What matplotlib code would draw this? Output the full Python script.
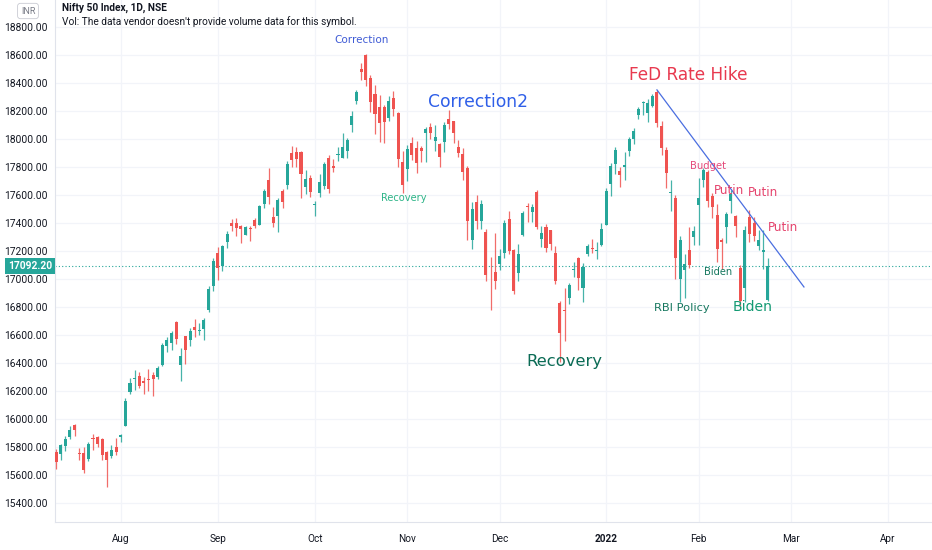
#!/usr/bin/env python3
from __future__ import annotations

import matplotlib

matplotlib.use("Agg")
import matplotlib.pyplot as plt
import numpy as np

# Nifty 50 Index, daily bars 2021-07-12 .. 2022-02-22 (x = trading-day index)
opens = [
    15766, 15749, 15808, 15872, 15956, 15754, 15754, 15711, 15862, 15869, 15860, 15761, 15732, 15800,  # Jul
    15874, 15951, 16196, 16288, 16304, 16270, 16281, 16314, 16303, 16385, 16518, 16545, 16691, 16382,
    16592, 16561, 16654, 16627, 16642, 16775, 16948,  # Aug
    17186, 17095, 17262, 17400, 17401, 17375, 17313, 17363, 17420, 17387, 17539, 17709, 17443, 17450,
    17630, 17670, 17897, 17907, 17906, 17657, 17719,  # Sep
    17531, 17615, 17661, 17861, 17810, 17887, 17867, 17916, 18097, 18273, 18500, 18602, 18439, 18320,
    18229, 18230, 18150, 18296, 18187, 17833,  # Oct
    17783, 17970, 17936, 17935, 18040, 18084, 17985, 17967, 17977, 18141, 18127, 17940, 17890, 17796,
    17281, 17550, 17417, 17338, 17055, 17052,  # Nov
    17104, 17183, 17425, 17209, 17045, 17315, 17524, 17477, 17619, 17283, 17371, 17348, 17183, 16825,
    16773, 16865, 17067, 17150, 16937, 17177, 17220, 17201, 17244,  # Dec
    17388, 17681, 17821, 17768, 17798, 17913, 17998, 18170, 18257, 18185, 18235, 18338, 18094, 17922,
    17614, 17575, 17001, 17062, 17209, 17301,  # Jan
    17529, 17706, 17767, 17590, 17456, 17279, 17370, 17555, 17452, 17077, 16934, 17440, 17398, 17235,
    17193, 16847,  # Feb
]
highs = [
    15789, 15820, 15879, 15952, 15962, 15790, 15800, 15834, 15890, 15880, 15861, 15768, 15817, 15863,
    15892, 16147, 16290, 16350, 16337, 16302, 16360, 16339, 16376, 16543, 16589, 16628, 16701, 16509,
    16592, 16647, 16712, 16683, 16722, 16951, 17153,
    17225, 17246, 17340, 17429, 17437, 17383, 17380, 17379, 17438, 17532, 17644, 17793, 17514, 17579,
    17640, 17843, 17947, 17943, 17913, 17781, 17743,
    17557, 17750, 17833, 17884, 17857, 17941, 18042, 18009, 18197, 18350, 18543, 18604, 18459, 18385,
    18315, 18241, 18310, 18342, 18190, 17916,
    17954, 18012, 17988, 17947, 18087, 18112, 18098, 17971, 18123, 18210, 18131, 17990, 17935, 17805,
    17553, 17601, 17564, 17355, 17160, 17325,
    17214, 17420, 17489, 17216, 17251, 17484, 17543, 17534, 17639, 17376, 17396, 17352, 17237, 16840,
    16936, 16971, 17118, 17155, 17112, 17250, 17285, 17264, 17400,
    17647, 17828, 17945, 17797, 17905, 18017, 18081, 18227, 18272, 18287, 18321, 18351, 18129, 17943,
    17707, 17599, 17309, 17182, 17373, 17381,
    17722, 17794, 17781, 17617, 17536, 17294, 17477, 17639, 17454, 17099, 17376, 17491, 17442, 17351,
    17351, 17148,
]
lows = [
    15644, 15707, 15770, 15856, 15880, 15707, 15616, 15700, 15780, 15800, 15705, 15513, 15723, 15744,
    15834, 15951, 16176, 16210, 16223, 16177, 16202, 16163, 16286, 16376, 16480, 16495, 16535, 16270,
    16395, 16520, 16589, 16603, 16565, 16764, 16915,
    16994, 17060, 17221, 17345, 17308, 17254, 17312, 17269, 17367, 17386, 17510, 17537, 17372, 17336,
    17505, 17646, 17800, 17802, 17576, 17608, 17585,
    17452, 17587, 17640, 17613, 17763, 17840, 17865, 17864, 18051, 18248, 18419, 18377, 18196, 18034,
    17980, 17968, 18132, 18167, 17799, 17613,
    17697, 17847, 17757, 17836, 17836, 17999, 17916, 17798, 17905, 18071, 17968, 17870, 17705, 17280,
    17216, 17354, 17355, 16986, 16782, 16932,
    17064, 17150, 17180, 16892, 16988, 17308, 17410, 17406, 17355, 17225, 17192, 17204, 16966, 16410,
    16555, 16819, 17015, 16920, 16834, 17162, 17185, 17146, 17238,
    17383, 17593, 17749, 17655, 17704, 17879, 17965, 18141, 18174, 18120, 18228, 18085, 17885, 17648,
    17485, 16998, 16837, 16866, 17077, 17244,
    17244, 17655, 17511, 17433, 17119, 17071, 17255, 17472, 17303, 16810, 16839, 17265, 17272, 17207,
    17071, 16844,
]
closes = [
    15692, 15812, 15854, 15924, 15923, 15752, 15632, 15824, 15856, 15824, 15746, 15709, 15778, 15763,
    15885, 16131, 16259, 16295, 16238, 16258, 16280, 16282, 16364, 16529, 16563, 16615, 16569, 16450,
    16496, 16625, 16635, 16637, 16705, 16931, 17132,
    17076, 17234, 17324, 17378, 17362, 17354, 17369, 17355, 17380, 17519, 17630, 17585, 17397, 17562,
    17547, 17823, 17853, 17855, 17749, 17711, 17618,
    17532, 17691, 17822, 17646, 17790, 17895, 17946, 17992, 18162, 18339, 18477, 18419, 18267, 18178,
    18115, 18125, 18268, 18211, 17857, 17672,
    17930, 17889, 17829, 17917, 18069, 18044, 18017, 17874, 18103, 18109, 18044, 17899, 17765, 17417,
    17503, 17415, 17536, 17026, 17054, 16983,
    17167, 17402, 17197, 16912, 17177, 17470, 17517, 17511, 17368, 17325, 17221, 17248, 16985, 16614,
    16771, 16955, 17073, 17004, 17086, 17233, 17214, 17204, 17354,
    17626, 17805, 17925, 17746, 17813, 18003, 18056, 18212, 18258, 18256, 18308, 18113, 17938, 17757,
    17617, 17149, 17278, 17110, 17102, 17340,
    17577, 17780, 17560, 17516, 17214, 17267, 17464, 17606, 17375, 16843, 17352, 17322, 17305, 17276,
    17207, 17092.2,
]

month_labels = ["Aug", "Sep", "Oct", "Nov", "Dec", "2022", "Feb", "Mar", "Apr"]
month_first_bar = [14, 35, 56, 76, 96, 119, 139, 159, 180]

price_ticks = list(range(15400, 18801, 200))
last_price = 17092.20

# trend line drawn from the 18-Jan-2022 high
trend_bars = [130, 161.8]
trend_prices = [18351, 16943]

note_texts = ["Correction", "Correction2", "Recovery", "FeD Rate Hike", "Recovery", "Budget",
              "Putin", "Putin", "Putin", "Biden", "RBI Policy", "Biden"]
note_bars = [66.0, 91.3, 75.3, 136.7, 109.9, 141.0, 145.6, 152.9, 157.3, 143.2, 135.4, 150.8]
note_prices = [18707, 18264, 17579, 18457, 16414, 17807, 17629, 17621, 17371, 17050, 16793, 16800]

UP = "#26a69a"
DOWN = "#ef5350"
TEXT = "#131722"
GRID = "#f2f4f9"
UI_FONT = ["Roboto", "DejaVu Sans"]


def _draw_candles(ax) -> None:
    o = np.asarray(opens, dtype=float)
    h = np.asarray(highs, dtype=float)
    lo = np.asarray(lows, dtype=float)
    c = np.asarray(closes, dtype=float)
    x = np.arange(len(o))
    colors = np.where(c >= o, UP, DOWN)

    ax.vlines(x, lo, h, colors=colors, linewidth=0.9, alpha=0.85, zorder=3)
    bottom = np.minimum(o, c)
    height = np.maximum(np.abs(c - o), 6.0)
    ax.bar(x, height, bottom=bottom, width=0.66, color=colors, linewidth=0, zorder=4)


def _draw_notes(ax) -> None:
    styles = [
        ("#3f5bd5", 7.5),   # Correction
        ("#2f5fe8", 12.3),  # Correction2
        ("#2cb487", 7.1),   # Recovery
        ("#e8394f", 12.2),  # FeD Rate Hike
        ("#0b6b55", 11.8),  # Recovery
        ("#e4497a", 7.2),   # Budget
        ("#e5446d", 8.6),   # Putin
        ("#e5446d", 8.6),
        ("#e5446d", 8.6),
        ("#16775e", 7.1),   # Biden
        ("#16775e", 8.2),   # RBI Policy
        ("#139a73", 10.1),  # Biden
    ]
    for text, bar, price, (color, size) in zip(note_texts, note_bars, note_prices, styles):
        ax.text(bar, price, text, color=color, fontsize=size, ha="center", va="center",
                family="DejaVu Sans", zorder=6)


def main() -> None:
    fig = plt.figure(figsize=(9.32, 5.5), dpi=100)
    ax = fig.add_axes([55 / 932, 28 / 550, 877 / 932, 522 / 550])

    ax.set_xlim(-0.22, 189.5)
    ax.set_ylim(15264, 18993)

    ax.set_yticks(price_ticks)
    ax.set_yticklabels([f"{p:.2f}" for p in price_ticks])
    ax.set_xticks(month_first_bar)
    ax.set_xticklabels(month_labels)
    for lbl in ax.get_xticklabels():
        lbl.set_family(UI_FONT)
        if lbl.get_text() == "2022":
            lbl.set_fontweight("bold")
    for lbl in ax.get_yticklabels():
        lbl.set_family(UI_FONT)
    ax.tick_params(axis="y", length=0, pad=5, labelsize=7.4, labelcolor=TEXT)
    ax.tick_params(axis="x", length=0, pad=9, labelsize=7.2, labelcolor=TEXT)

    ax.grid(True, color=GRID, linewidth=0.9, zorder=0)
    for side in ("top", "right"):
        ax.spines[side].set_visible(False)
    for side in ("left", "bottom"):
        ax.spines[side].set_color("#e0e3eb")
        ax.spines[side].set_linewidth(0.8)

    _draw_candles(ax)

    ax.axhline(last_price, color=UP, linewidth=0.8, linestyle=(0, (1, 2)), zorder=2)
    ax.text(-0.003, last_price, f"{last_price:.2f}", transform=ax.get_yaxis_transform(),
            ha="right", va="center", color="white", fontsize=7.4, fontweight="bold", family=UI_FONT,
            bbox=dict(boxstyle="square,pad=0.3", fc=UP, ec="none"), clip_on=False, zorder=10)

    ax.plot(trend_bars, trend_prices, color="#4a6ee0", linewidth=0.9, zorder=5)
    _draw_notes(ax)

    fig.text(62 / 932, 1 - 8 / 550, "Nifty 50 Index, 1D, NSE", fontsize=7.3, fontweight="bold",
             color=TEXT, va="center", family=UI_FONT)
    fig.text(62 / 932, 1 - 22 / 550, "Vol: The data vendor doesn't provide volume data for this symbol.",
             fontsize=7.3, color=TEXT, va="center", family=UI_FONT)
    fig.text(28 / 932, 1 - 11 / 550, "INR", fontsize=6.5, color="#787b86", ha="center", va="center",
             family=UI_FONT,
             bbox=dict(boxstyle="round,pad=0.35,rounding_size=0.3", fc="white", ec="#c9cbd3", lw=0.6))

    fig.savefig("out.png", dpi=100)
    plt.close(fig)


if __name__ == "__main__":
    main()
